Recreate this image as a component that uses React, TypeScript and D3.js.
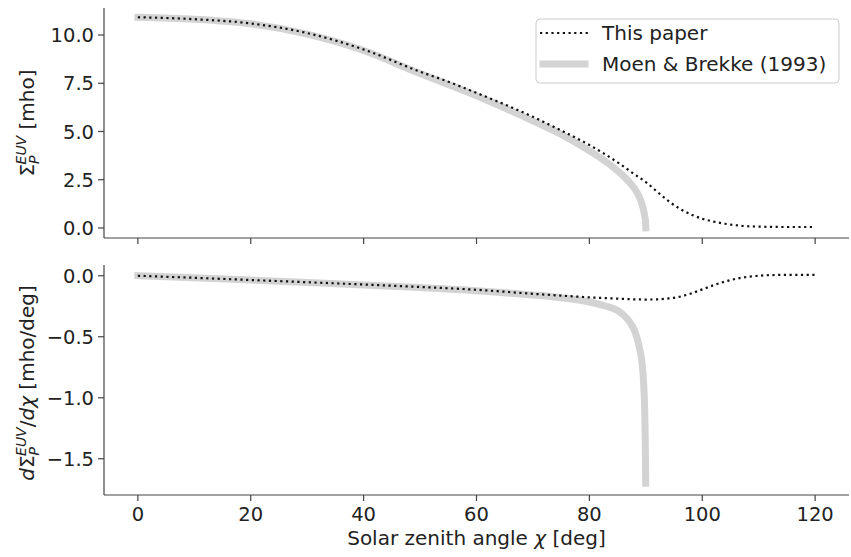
import React from "react";
import * as d3 from "d3";

// ---- Data ----
const X_TICKS = [0, 20, 40, 60, 80, 100, 120];
const TOP_Y_TICKS = [0, 2.5, 5, 7.5, 10];
const BOT_Y_TICKS = [0, -0.5, -1, -1.5];

// "This paper" (dotted)
const paperChi = [0, 10, 20, 30, 40, 50, 55, 60, 65, 70, 75, 80, 85, 88, 90, 92, 94, 96, 98, 100, 102, 104, 106, 108, 110, 115, 120];
const paperSigma = [10.92, 10.82, 10.6, 10.1, 9.25, 8.1, 7.58, 7.0, 6.4, 5.76, 5.05, 4.3, 3.4, 2.78, 2.38, 1.88, 1.4, 1.0, 0.7, 0.48, 0.33, 0.22, 0.14, 0.09, 0.07, 0.05, 0.05];

const paperDChi = [0, 10, 20, 30, 40, 50, 60, 70, 75, 80, 85, 90, 92, 94, 96, 98, 100, 102, 104, 106, 108, 110, 112, 115, 120];
const paperDSigma = [0, -0.017, -0.035, -0.053, -0.072, -0.092, -0.115, -0.148, -0.163, -0.177, -0.188, -0.195, -0.194, -0.186, -0.172, -0.146, -0.112, -0.078, -0.048, -0.025, -0.009, 0.0, 0.005, 0.007, 0.007];

// "Moen & Brekke (1993)" (thick grey)
const moenChi = [0, 10, 20, 30, 40, 50, 60, 70, 75, 80, 84, 86, 87, 88, 89, 89.5, 89.8, 89.95, 90];
const moenSigma = [10.92, 10.82, 10.58, 10.05, 9.2, 8.0, 6.85, 5.55, 4.85, 4.0, 3.2, 2.7, 2.4, 2.05, 1.5, 1.05, 0.62, 0.32, 0.0];

const moenDChi = [0, 10, 20, 30, 40, 50, 60, 70, 75, 80, 83, 85, 86, 87, 88, 88.5, 89, 89.3, 89.6, 89.8, 89.9, 89.95, 89.98];
const moenDSigma = [0, -0.017, -0.035, -0.055, -0.075, -0.097, -0.123, -0.158, -0.18, -0.215, -0.25, -0.285, -0.32, -0.37, -0.45, -0.52, -0.62, -0.7, -0.87, -1.1, -1.35, -1.55, -1.7];

const FONT = "DejaVu Sans, sans-serif";
const GREY = "#d3d3d3";
const SPINE = "#444";

export default function App() {
  const W = 851;
  const H = 557;
  const x = d3.scaleLinear().domain([-6, 126]).range([104, 849]);
  const yTop = d3.scaleLinear().domain([-0.52, 11.4]).range([238, 8]);
  const yBot = d3.scaleLinear().domain([-1.797, 0.088]).range([495, 265]);

  const mk = (xs: number[], ys: number[], ys2: d3.ScaleLinear<number, number>) =>
    d3
      .line<number>()
      .x((_, i) => x(xs[i]))
      .y((v) => ys2(v))
      .curve(d3.curveMonotoneX)(ys) as string;

  const topPaper = mk(paperChi, paperSigma, yTop);
  const topMoen = mk(moenChi, moenSigma, yTop);
  const botPaper = mk(paperDChi, paperDSigma, yBot);
  const botMoen = mk(moenDChi, moenDSigma, yBot);

  const fmt = d3.format(".1f");
  const fmtNeg = (v: number) => (v < 0 ? "\u2212" + fmt(-v) : fmt(v));

  const panel = (
    y: d3.ScaleLinear<number, number>,
    ticks: number[],
    showXLabels: boolean
  ) => {
    const [b, t] = y.range();
    return (
      <g>
        <line x1={104} x2={104} y1={t} y2={b} stroke={SPINE} strokeWidth={1.2} />
        <line x1={104} x2={849} y1={b} y2={b} stroke={SPINE} strokeWidth={1.2} />
        {ticks.map((v) => (
          <g key={"y" + v}>
            <line x1={98} x2={104} y1={y(v)} y2={y(v)} stroke={SPINE} strokeWidth={1.2} />
            <text
              x={94}
              y={y(v)}
              dy="0.36em"
              textAnchor="end"
              fontFamily={FONT}
              fontSize={19.5}
              fill="#222"
            >
              {fmtNeg(v)}
            </text>
          </g>
        ))}
        {X_TICKS.map((v) => (
          <g key={"x" + v}>
            <line x1={x(v)} x2={x(v)} y1={b} y2={b + 6} stroke={SPINE} strokeWidth={1.2} />
            {showXLabels && (
              <text
                x={x(v)}
                y={b + 26}
                textAnchor="middle"
                fontFamily={FONT}
                fontSize={19.5}
                fill="#222"
              >
                {v}
              </text>
            )}
          </g>
        ))}
      </g>
    );
  };

  return (
    <svg width={W} height={H} style={{ display: "block", position: "absolute", left: 0, top: 0 }}>
      <rect width={W} height={H} fill="white" />
      {/* Top panel */}
      <path d={topMoen} fill="none" stroke={GREY} strokeWidth={7} strokeLinecap="square" />
      <path d={topPaper} fill="none" stroke="#111" strokeWidth={2.2} strokeDasharray="2.2 3.5" />
      {panel(yTop, TOP_Y_TICKS, false)}

      {/* Bottom panel */}
      <path d={botMoen} fill="none" stroke={GREY} strokeWidth={7} strokeLinecap="square" />
      <path d={botPaper} fill="none" stroke="#111" strokeWidth={2.2} strokeDasharray="2.2 3.5" />
      {panel(yBot, BOT_Y_TICKS, true)}

      {/* Legend */}
      <g>
        <rect x={536} y={19} width={303} height={64} rx={4} fill="white" fillOpacity={0.8} stroke="#ccc" strokeWidth={1} />
        <line x1={540} x2={588} y1={33} y2={33} stroke="#111" strokeWidth={2.2} strokeDasharray="2.2 3.5" />
        <text x={602} y={40} fontFamily={FONT} fontSize={20} fill="#222">This paper</text>
        <line x1={543} x2={585} y1={64} y2={64} stroke={GREY} strokeWidth={7} strokeLinecap="square" />
        <text x={602} y={71} fontFamily={FONT} fontSize={20} fill="#222">Moen &amp; Brekke (1993)</text>
      </g>

      {/* X label */}
      <text x={476.5} y={545} textAnchor="middle" fontFamily={FONT} fontSize={20} fill="#222">
        Solar zenith angle <tspan fontStyle="italic">χ</tspan> [deg]
      </text>

      {/* Top Y label */}
      <text
        transform="translate(34,123) rotate(-90)"
        textAnchor="middle"
        fontFamily={FONT}
        fontSize={20}
        fill="#222"
      >
        Σ
        <tspan fontStyle="italic" fontSize={14} dy={5}>P</tspan>
        <tspan fontStyle="italic" fontSize={14} dx={-9} dy={-13}>EUV</tspan>
        <tspan dy={8}> [mho]</tspan>
      </text>

      {/* Bottom Y label */}
      <text
        transform="translate(34,383) rotate(-90)"
        textAnchor="middle"
        fontFamily={FONT}
        fontSize={20}
        fill="#222"
      >
        <tspan fontStyle="italic">d</tspan>Σ
        <tspan fontStyle="italic" fontSize={14} dy={5}>P</tspan>
        <tspan fontStyle="italic" fontSize={14} dx={-9} dy={-13}>EUV</tspan>
        <tspan dy={8}>/</tspan>
        <tspan fontStyle="italic">dχ</tspan>
        <tspan> [mho/deg]</tspan>
      </text>
    </svg>
  );
}
